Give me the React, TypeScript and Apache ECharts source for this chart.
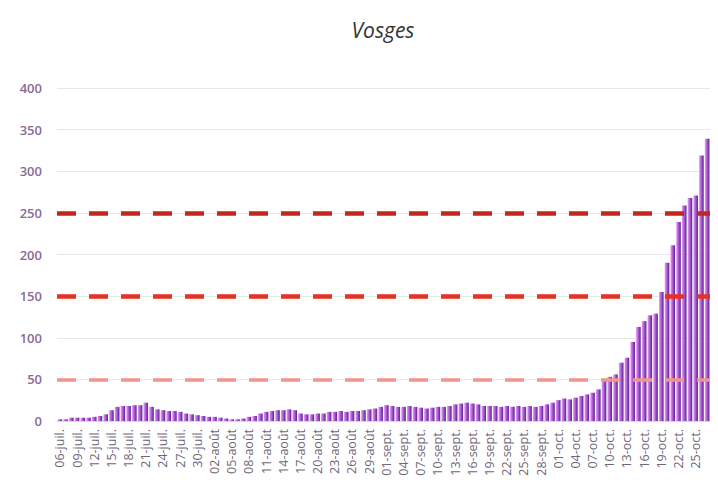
import React, { useEffect, useRef } from "react";
import * as echarts from "echarts";

const MONTHS = ["juil.", "août", "sept.", "oct."];
const MONTH_DAYS = [31, 31, 30, 31];
const START_DAY = 6;
const DAY_COUNT = 114;

function buildDates(): string[] {
  const out: string[] = [];
  let m = 0;
  let d = START_DAY;
  for (let i = 0; i < DAY_COUNT; i++) {
    out.push(String(d).padStart(2, "0") + "-" + MONTHS[m]);
    d++;
    if (d > MONTH_DAYS[m]) {
      d = 1;
      m++;
    }
  }
  return out;
}

const categories = buildDates();

const values = [
  2, 2, 4, 4, 4, 4, 5, 6, 8, 13,
  17, 18, 18, 19, 19, 22, 17, 14, 13, 12,
  12, 11, 9, 8, 7, 6, 5, 5, 4, 3,
  2, 2, 3, 5, 6, 9, 11, 12, 13, 13,
  14, 13, 9, 8, 8, 9, 9, 11, 11, 12,
  11, 12, 12, 13, 14, 15, 17, 19, 18, 17,
  17, 18, 17, 16, 15, 16, 17, 17, 18, 20,
  21, 22, 21, 20, 18, 18, 18, 17, 18, 17,
  18, 17, 18, 17, 18, 20, 22, 25, 27, 26,
  28, 30, 32, 34, 38, 48, 53, 56, 70, 76,
  95, 113, 120, 127, 129, 155, 190, 211, 239, 259,
  268, 271, 319, 339,
];

const thresholds = [250, 150, 50];
const thresholdColors = ["#c4261b", "#e8321f", "#f4938b"];

export default function App() {
  const ref = useRef<HTMLDivElement>(null);
  useEffect(() => {
    if (!ref.current) return;
    const chart = echarts.init(ref.current, null, { renderer: "svg" });
    chart.setOption({
      animation: false,
      backgroundColor: "#ffffff",
      title: {
        text: "Vosges",
        left: 378,
        top: 14,
        textAlign: "center",
        textStyle: {
          fontFamily: "Open Sans",
          fontStyle: "italic",
          fontWeight: "normal",
          fontSize: 21,
          color: "#333333",
        },
      },
      grid: { left: 57, right: 8, top: 88, bottom: 80, containLabel: false },
      xAxis: {
        type: "category",
        data: categories,
        axisLine: { show: true, lineStyle: { color: "#d9d9d9" } },
        axisTick: { show: false },
        axisLabel: {
          interval: 2,
          rotate: 90,
          fontSize: 12.5,
          fontFamily: "Open Sans",
          color: "#6f6878",
          margin: 8,
        },
      },
      yAxis: {
        type: "value",
        min: 0,
        max: 400,
        interval: 50,
        axisLine: { show: false },
        axisTick: { show: false },
        splitLine: { lineStyle: { color: "#e8e8e8", width: 1 } },
        axisLabel: {
          fontSize: 13,
          fontFamily: "Open Sans",
          fontWeight: 600,
          color: "#8a6a96",
          margin: 15,
        },
      },
      series: [
        {
          type: "bar",
          data: values,
          barCategoryGap: "20%",
          itemStyle: {
            color: new echarts.graphic.LinearGradient(0, 0, 1, 0, [
              { offset: 0, color: "#ec9cf4" },
              { offset: 0.45, color: "#b45ed6" },
              { offset: 1, color: "#4a2590" },
            ]),
          },
          markLine: {
            silent: true,
            symbol: "none",
            z: 10,
            label: { show: false },
            data: thresholds.map((t, i) => ({
              yAxis: t,
              lineStyle: {
                color: thresholdColors[i],
                width: i === 2 ? 3.5 : 4.5,
                type: [19, 13],
              },
            })),
          },
        },
      ],
    });
    return () => chart.dispose();
  }, []);
  return (
    <div
      ref={ref}
      style={{ position: "absolute", left: 0, top: 0, width: 718, height: 501 }}
    />
  );
}
